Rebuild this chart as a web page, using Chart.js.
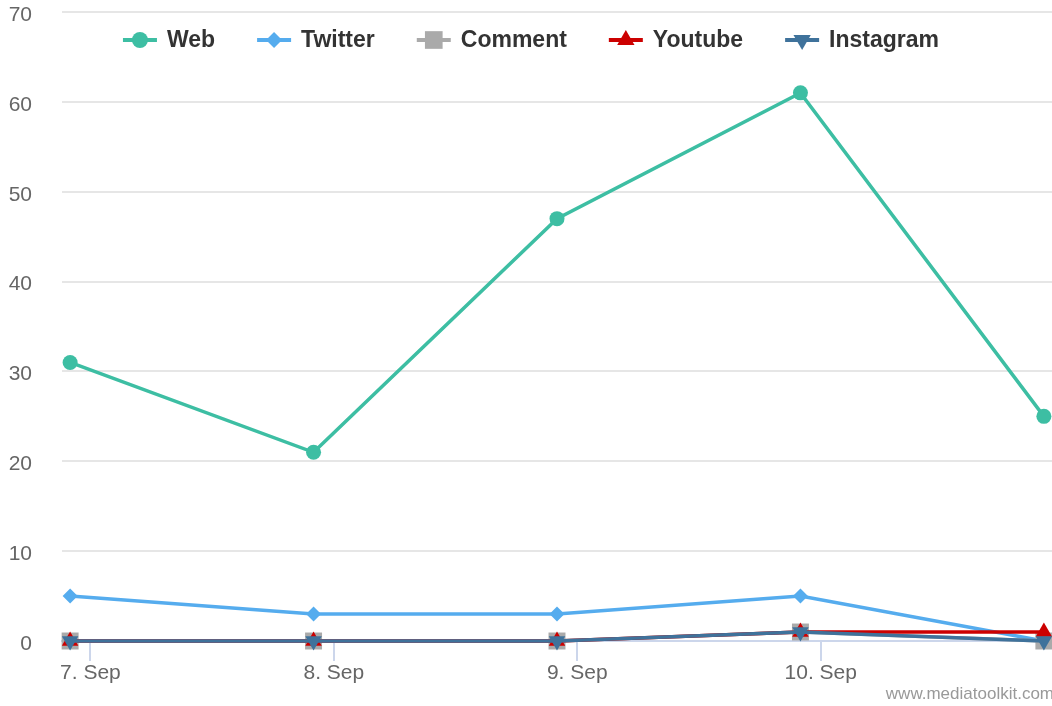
<!DOCTYPE html>
<html>
<head>
<meta charset="utf-8">
<script src="https://cdn.jsdelivr.net/npm/chart.js"></script>
<style>
  html, body { margin: 0; padding: 0; background: #fff; }
  #wrap { width: 1052px; height: 706px; }
</style>
</head>
<body>
<div id="wrap"><canvas id="myChart" width="1052" height="706"></canvas></div>
<script>
// hours since 7 Sep 00:00 for each data point
const pointHours = [-2, 22, 46, 70, 94]
const tickHours = [0, 24, 48, 72]
const tickLabels = ['7. Sep', '8. Sep', '9. Sep', '10. Sep']

const web = [31, 21, 47, 61, 25]
const twitter = [5, 3, 3, 5, 0]
const comment = [0, 0, 0, 1, 0]
const youtube = [0, 0, 0, 1, 1]
const instagram = [0, 0, 0, 1, 0]

const yTicks = [0, 10, 20, 30, 40, 50, 60, 70]

const FONT = '"Liberation Sans", Arial, Helvetica, sans-serif'

const series = [
    { label: 'Web', data: web, color: '#3dbea3', marker: 'circle', radius: 7.5, rotation: 0 },
    { label: 'Twitter', data: twitter, color: '#55acee', marker: 'rectRot', radius: 7.5, rotation: 0 },
    { label: 'Comment', data: comment, color: '#aaaaaa', marker: 'rect', radius: 12, rotation: 0 },
    { label: 'Youtube', data: youtube, color: '#cc0000', marker: 'triangle', radius: 9.5, rotation: 0 },
    { label: 'Instagram', data: instagram, color: '#3f729b', marker: 'triangle', radius: 9.5, rotation: 180 }
]

function drawMarker(c, s, x, y){
    const r = s.radius
    c.save()
    c.fillStyle = s.color
    c.translate(x, y)
    c.rotate(s.rotation * Math.PI / 180)
    c.beginPath()
    if (s.marker === 'circle') {
        c.arc(0, 0, r, 0, Math.PI * 2)
    } else if (s.marker === 'rectRot') {
        c.moveTo(0, -r); c.lineTo(r, 0); c.lineTo(0, r); c.lineTo(-r, 0)
    } else if (s.marker === 'rect') {
        const h = r * Math.SQRT1_2
        c.rect(-h, -h, 2 * h, 2 * h)
    } else {
        for (let k = 0; k < 3; k++) {
            const a = k * 2 * Math.PI / 3
            const px = Math.sin(a) * r, py = -Math.cos(a) * r
            k === 0 ? c.moveTo(px, py) : c.lineTo(px, py)
        }
    }
    c.closePath()
    c.fill()
    c.restore()
}

// legend floats over the plot like the original
const floatLegend = {
    id: 'floatLegend',
    afterDraw(chart){
        const c = chart.ctx
        c.save()
        c.font = 'bold 23px ' + FONT
        c.textBaseline = 'middle'
        const iconW = 34, gap = 10, itemGap = 42
        const widths = series.map(s => iconW + gap + c.measureText(s.label).width)
        const total = widths.reduce((a, b) => a + b, 0) + itemGap * (series.length - 1)
        let x = 531 - total / 2
        const y = 40
        series.forEach((s, i) => {
            c.strokeStyle = s.color
            c.lineWidth = 4
            c.beginPath()
            c.moveTo(x, y)
            c.lineTo(x + iconW, y)
            c.stroke()
            drawMarker(c, Object.assign({}, s, { radius: s.radius + 0.5 }), x + iconW / 2, y)
            c.fillStyle = '#333333'
            c.fillText(s.label, x + iconW + gap, y + 1)
            x += widths[i] + itemGap
        })
        c.font = '17px ' + FONT
        c.fillStyle = '#999999'
        c.textAlign = 'right'
        c.fillText('www.mediatoolkit.com', chart.width + 2, 694)
        c.restore()
    }
}

function noPadding(scale){
    scale.paddingLeft = 0
    scale.paddingRight = 0
    scale.paddingTop = 0
    scale.paddingBottom = 0
}

const ctx = document.getElementById('myChart').getContext('2d')

const datasets = series.map((s, i) => ({
    label: s.label,
    data: s.data.map((v, j) => ({ x: pointHours[j], y: v })),
    borderColor: s.color,
    backgroundColor: s.color,
    borderWidth: 3.5,
    pointStyle: s.marker,
    pointRotation: s.rotation,
    pointRadius: s.radius,
    pointBorderWidth: 0,
    pointHoverRadius: s.radius,
    tension: 0,
    clip: false,
    order: series.length - i
}))

new Chart(ctx, {
    type: 'line',
    data: { datasets: datasets },
    plugins: [floatLegend],
    options: {
        responsive: false,
        animation: false,
        layout: { autoPadding: false, padding: { left: 8, right: 0, top: 12, bottom: 20 } },
        plugins: {
            legend: { display: false },
            tooltip: { enabled: false }
        },
        scales: {
            x: {
                type: 'linear',
                min: -2.8,
                max: 94.8,
                afterBuildTicks: scale => { scale.ticks = tickHours.map(v => ({ value: v })) },
                afterFit: scale => { noPadding(scale); scale.height = 45 },
                grid: {
                    drawOnChartArea: false,
                    drawTicks: true,
                    tickLength: 20,
                    tickColor: '#ccd6eb',
                    lineWidth: 2
                },
                border: { display: true, color: '#ccd6eb', width: 2 },
                ticks: {
                    padding: 0,
                    maxRotation: 0,
                    autoSkip: false,
                    color: '#666666',
                    font: { family: FONT, size: 21 },
                    callback: (v, i) => tickLabels[i]
                }
            },
            y: {
                min: 0,
                max: 70,
                afterBuildTicks: scale => { scale.ticks = yTicks.map(v => ({ value: v })) },
                afterFit: scale => { noPadding(scale); scale.width = 54 },
                grid: { color: '#e6e6e6', lineWidth: 2, drawTicks: false },
                border: { display: false },
                ticks: {
                    padding: 30,
                    labelOffset: 3,
                    color: '#666666',
                    font: { family: FONT, size: 21 }
                }
            }
        }
    }
})
</script>
</body>
</html>
